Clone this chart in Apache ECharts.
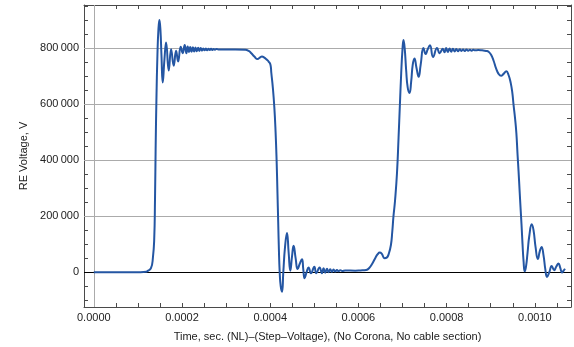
<!DOCTYPE html>
<html>
<head>
<meta charset="utf-8">
<script src="https://cdn.jsdelivr.net/npm/echarts@6/dist/echarts.min.js"></script>
<style>
  html, body { margin: 0; padding: 0; background: #fff; }
  #chart { width: 574px; height: 347px; }
</style>
</head>
<body>
<div id="chart"></div>
<script>
// Receiving-end voltage for a step excitation, sampled at the turning points of the waveform.
// Time in microseconds, voltage in volts.
const timeUs = [
  0, 60.5, 105.8, 119.4, 121.6, 129.6, 134.1, 137.0, 138.8, 140.2, 142.0, 144.3, 146.5, 148.8,
  151.1, 153.4, 156.3, 160.2, 164.0, 169.9, 175.3, 181.2, 186.6, 191.2, 197.1, 201.6, 206.1, 210.0,
  212.9, 215.9, 218.8, 221.7, 224.7, 227.6, 230.6, 233.5, 236.5, 239.4, 242.4, 245.3, 248.2, 251.2,
  254.1, 257.1, 260.0, 263.0, 265.9, 268.9, 271.8, 274.7, 277.9, 282.4, 298.3, 321.0, 343.6,
  351.1, 357.2, 364.0, 371.5, 376.4, 381.4, 386.6, 391.2, 396.4, 400.7, 402.5, 405.9, 409.3,
  412.2, 414.5, 416.5, 418.1, 419.7, 421.5, 423.8, 426.8, 429.7, 433.6, 438.0, 441.8, 445.5,
  449.4, 453.0, 457.6, 462.1, 467.0, 472.0, 475.0, 477.9, 482.5, 487.0, 492.5, 500.0, 504.4,
  511.9, 517.3, 521.0, 524.8, 528.7, 532.3, 536.1, 540.0, 543.6, 547.5, 551.3, 554.9, 558.8,
  563.3, 570.1, 592.7, 604.1, 617.7, 624.5, 631.3, 638.1, 643.7, 648.3, 652.8, 659.2, 664.2,
  668.7, 673.7, 676.8, 679.5, 683.0, 687.5, 691.0, 694.1, 697.0, 699.7, 702.2, 704.9,
  708.3, 711.7, 715.8, 719.6, 723.1, 727.1, 731.6, 736.6, 741.1, 747.5, 752.5, 756.9, 762.2,
  769.3, 778.3, 784.2, 791.2, 795.0, 798.9, 802.7, 806.6, 810.4, 814.3, 818.1, 822.0, 825.8,
  829.7, 833.5, 837.4, 841.2, 845.1, 848.9, 852.8, 856.6, 860.5, 864.6, 871.4, 880.4, 889.5,
  895.1, 900.8, 906.5, 912.1, 917.8, 923.5, 929.1, 935.4, 940.4, 945.4, 949.0, 951.7, 955.1,
  958.1, 960.8, 963.1, 965.5, 967.6, 969.8, 972.1, 974.4, 977.1, 980.0, 983.5, 987.5, 993.0,
  997.0, 1001.6, 1006.8, 1011.3, 1015.2, 1019.7, 1023.8, 1027.6, 1032.8, 1038.3, 1043.9,
  1048.7, 1053.6, 1057.7, 1061.5, 1065.0, 1068.4
];
const voltage = [
  0, 0, 0, 1000, 3600, 14000, 53000, 117000, 260000, 438000, 616000, 776000, 865000, 900000,
  865000, 776000, 677000, 760000, 820000, 720000, 796000, 737000, 791000, 752000, 805000, 782000, 811000, 782000,
  806000, 786000, 804000, 787000, 803000, 788000, 802000, 789000, 801000, 790000, 800000, 791000, 799000, 792000,
  799000, 792000, 798000, 793000, 798000, 793000, 797000, 794000, 797000, 795000, 795000, 795000, 794000,
  790000, 782000, 770000, 761000, 766000, 770000, 766000, 760000, 752000, 740000, 712000, 660000, 590000,
  500000, 400000, 280000, 180000, 80000, 0, -50000, -70000, 0, 90000, 140000, 70000, 5000,
  55000, 94000, 50000, 11000, 30000, 46000, 10000, -22000, 0, 17000, -4000, 19000, -4000,
  17000, -4000, 14000, -2000, 12000, 0, 10000, 1000, 9000, 2000, 8000, 3000, 7000,
  4000, 6000, 5000, 6000, 8000, 15000, 30000, 50000, 64000, 70000, 66000, 50000, 52000,
  65000, 97000, 145000, 200000, 255000, 355000, 480000, 600000, 710000, 790000, 829000, 800000,
  720000, 660000, 640000, 680000, 740000, 763000, 730000, 698000, 740000, 800000, 779000, 795000, 810000,
  768000, 800000, 782000, 798000, 785000, 800000, 786000, 799000, 787000, 798000, 788000, 797000, 789000,
  796000, 790000, 795000, 790000, 795000, 791000, 794000, 791000, 794000, 792000, 793000, 792000, 790000,
  787000, 776000, 755000, 728000, 708000, 701000, 708000, 717000, 704000, 675000, 640000, 598000, 550000,
  497000, 420000, 360000, 290000, 230000, 170000, 100000, 40000, 3000, 20000, 70000, 130000, 171000,
  150000, 90000, 47000, 75000, 90000, 60000, 10000, -17000, 0, 22000, 7000,
  20000, 31000, 15000, -1000, 5000, 12000
];

// Axis ticks and labels (seconds / volts)
const xLabelValues = [0, 0.0002, 0.0004, 0.0006, 0.0008, 0.0010];
const xGridValues = [0.0002, 0.0004, 0.0006, 0.0008, 0.0010];
const xTickValues = [0, 0.00005, 0.0001, 0.00015, 0.0002, 0.00025, 0.0003, 0.00035, 0.0004, 0.00045,
  0.0005, 0.00055, 0.0006, 0.00065, 0.0007, 0.00075, 0.0008, 0.00085, 0.0009, 0.00095, 0.001, 0.00105];
const yLabelValues = [0, 200000, 400000, 600000, 800000];
const yGridValues = [200000, 400000, 600000, 800000];
const yTickValues = [-100000, -50000, 0, 50000, 100000, 150000, 200000, 250000, 300000, 350000, 400000,
  450000, 500000, 550000, 600000, 650000, 700000, 750000, 800000, 850000, 900000, 950000];

const xRange = [-0.0000222, 0.001082];
const yRange = [-124500, 954000];

const points = timeUs.map((t, i) => [t * 1e-6, voltage[i]]);

const FONT = "'Liberation Sans', Arial, sans-serif";
const frameColor = '#4a4a4a';
const textColor = '#222';

function groupThousands(v) {
  if (v === 0) return '0';
  const s = String(Math.round(v));
  return s.slice(0, s.length - 3) + '\u2009' + s.slice(s.length - 3);
}

function xAxisDef(position, withLabels) {
  return {
    type: 'value', position, min: xRange[0], max: xRange[1],
    axisLine: { show: true, onZero: false, lineStyle: { color: frameColor, width: 1 } },
    axisTick: { show: true, inside: true, length: 4, customValues: xTickValues,
      lineStyle: { color: frameColor, width: 1 } },
    axisLabel: withLabels ? {
      show: true, customValues: xLabelValues, margin: 5,
      color: textColor, fontFamily: FONT, fontSize: 11,
      formatter: v => v.toFixed(4)
    } : { show: false },
    splitLine: { show: false },
    name: withLabels ? 'Time, sec. (NL)\u2013(Step\u2013Voltage), (No Corona, No cable section)' : '',
    nameLocation: 'middle', nameGap: 24,
    nameTextStyle: { color: textColor, fontFamily: FONT, fontSize: 11 }
  };
}

function yAxisDef(position, withLabels) {
  return {
    type: 'value', position, min: yRange[0], max: yRange[1],
    axisLine: { show: true, onZero: false, lineStyle: { color: frameColor, width: 1 } },
    axisTick: { show: true, inside: true, length: 4, customValues: yTickValues,
      lineStyle: { color: frameColor, width: 1 } },
    axisLabel: withLabels ? {
      show: true, customValues: yLabelValues, margin: 5,
      color: textColor, fontFamily: FONT, fontSize: 11,
      formatter: groupThousands
    } : { show: false },
    splitLine: { show: false },
    name: withLabels ? 'RE Voltage, V' : '',
    nameLocation: 'middle', nameGap: 48, nameRotate: 90,
    nameTextStyle: { color: textColor, fontFamily: FONT, fontSize: 11 }
  };
}

const chart = echarts.init(document.getElementById('chart'), null, { renderer: 'canvas' });
chart.setOption({
  animation: false,
  backgroundColor: '#fff',
  grid: { left: 84, right: 3, top: 5, bottom: 39, containLabel: false },
  xAxis: [xAxisDef('bottom', true), xAxisDef('top', false)],
  yAxis: [yAxisDef('left', true), yAxisDef('right', false)],
  series: [{
    type: 'line',
    xAxisIndex: 0, yAxisIndex: 0,
    data: points,
    smooth: 0.5,
    symbol: 'none',
    z: 3,
    lineStyle: { color: '#2456a3', width: 2 },
    markLine: {
      silent: true, symbol: 'none', z: 1,
      label: { show: false },
      lineStyle: { color: '#ababab', type: 'solid', width: 1 },
      data: [
        ...xGridValues.map(v => ({ xAxis: v })),
        ...yGridValues.map(v => ({ yAxis: v })),
        { yAxis: 0, lineStyle: { color: '#000', width: 1, type: 'solid' } }
      ]
    }
  }]
});
</script>
</body>
</html>
